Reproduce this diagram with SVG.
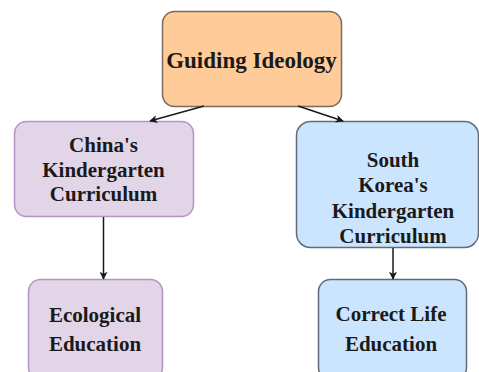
<svg xmlns="http://www.w3.org/2000/svg" width="479" height="372" viewBox="0 0 479 372">
<style>
text{font-family:"Liberation Serif","Times New Roman",serif;font-weight:bold;font-size:21px;fill:#1a1a1a;text-anchor:middle}
.big{font-size:23px}
.b{stroke-width:1.5}
.o{fill:#FFCC99;stroke:#7a6a5c}
.p{fill:#E1D5E7;stroke:#b394c4}
.u{fill:#CCE5FF;stroke:#5f6b78}
.c{stroke:#1a1a1a;stroke-width:1.5;fill:none}
</style>
<defs>
<marker id="a" viewBox="0 0 10 10" refX="9" refY="5" markerWidth="8" markerHeight="8" orient="auto" markerUnits="userSpaceOnUse">
<path d="M0,0 L10,5 L0,10 L2.5,5 z" fill="#1a1a1a"/>
</marker>
</defs>
<rect width="479" height="372" fill="#fff"/>
<g id="guiding">
<rect class="b o" x="162.5" y="11.5" width="179" height="95" rx="12"/>
<text class="big" x="251.5" y="67.5">Guiding Ideology</text>
</g>
<g id="china">
<rect class="b p" x="14.5" y="121.5" width="179" height="95" rx="12"/>
<text x="103.5" y="152">China's</text>
<text x="103.5" y="176.5">Kindergarten</text>
<text x="103.5" y="201">Curriculum</text>
</g>
<g id="korea">
<rect class="b u" x="296.5" y="121.5" width="182" height="126" rx="14"/>
<text x="393" y="167">South</text>
<text x="393" y="192">Korea's</text>
<text x="393" y="218">Kindergarten</text>
<text x="393" y="243">Curriculum</text>
</g>
<g id="ecological">
<rect class="b p" x="28.5" y="279.5" width="134" height="100" rx="12"/>
<text x="95" y="322">Ecological</text>
<text x="95" y="351">Education</text>
</g>
<g id="correct">
<rect class="b u" x="318.5" y="279.5" width="148" height="100" rx="12"/>
<text x="391" y="321">Correct Life</text>
<text x="391" y="351">Education</text>
</g>
<g id="connectors">
<path class="c" d="M204,106 L150,121" marker-end="url(#a)"/>
<path class="c" d="M298,106 L343,121" marker-end="url(#a)"/>
<path class="c" d="M103.5,217 L103.5,279" marker-end="url(#a)"/>
<path class="c" d="M393,248 L393,279" marker-end="url(#a)"/>
</g>
</svg>
